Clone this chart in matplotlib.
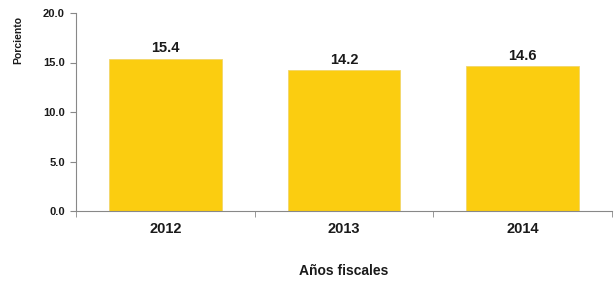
import numpy as np
import matplotlib
matplotlib.use("Agg")
import matplotlib.pyplot as plt

years = ["2012", "2013", "2014"]
values = [15.4, 14.2, 14.6]
yticks = [0.0, 5.0, 10.0, 15.0, 20.0]

plt.rcParams['font.family'] = ['Liberation Sans', 'DejaVu Sans']
plt.rcParams['font.weight'] = 'bold'

fig = plt.figure(figsize=(6.16, 2.85), dpi=100)
ax = fig.add_axes([76/616, 1 - 211/285, 536/616, 198/285])

x = np.arange(len(years))
bars = ax.bar(x, values, width=0.63, color="#FBCD10", edgecolor="#F2D66A", linewidth=0.6)

for xi, v in zip(x, values):
    ax.text(xi, v + 0.35, "%.1f" % v, ha="center", va="bottom", fontsize=10.5, fontweight="bold", color="#1a1a1a")

ax.set_xlim(-0.5, len(years) - 0.5)
ax.set_ylim(0, 20)
ax.set_yticks(yticks)
ax.set_yticklabels(["%.1f" % t for t in yticks], fontsize=8, fontweight="bold", color="#1a1a1a")
ax.set_xticks(x)
ax.set_xticklabels(years, fontsize=10.5, fontweight="bold", color="#1a1a1a")
ax.tick_params(axis="x", length=0, pad=8)
ax.set_xticks(np.arange(len(years) + 1) - 0.5, minor=True)
ax.tick_params(axis="x", which="minor", length=4, color="#888888")
ax.tick_params(axis="y", length=4, color="#888888", pad=4)

for s in ["top", "right"]:
    ax.spines[s].set_visible(False)
for s in ["left", "bottom"]:
    ax.spines[s].set_color("#888888")
    ax.spines[s].set_linewidth(0.8)

fig.text(18/616, 1 - 40/285, "Porciento", rotation=90, ha="center", va="center", fontsize=7.5, fontweight="bold", color="#1a1a1a")
fig.text(344/616, 1 - 271/285, "Años fiscales", ha="center", va="center", fontsize=10, fontweight="bold", color="#1a1a1a")

plt.savefig("out.png", dpi=100)
